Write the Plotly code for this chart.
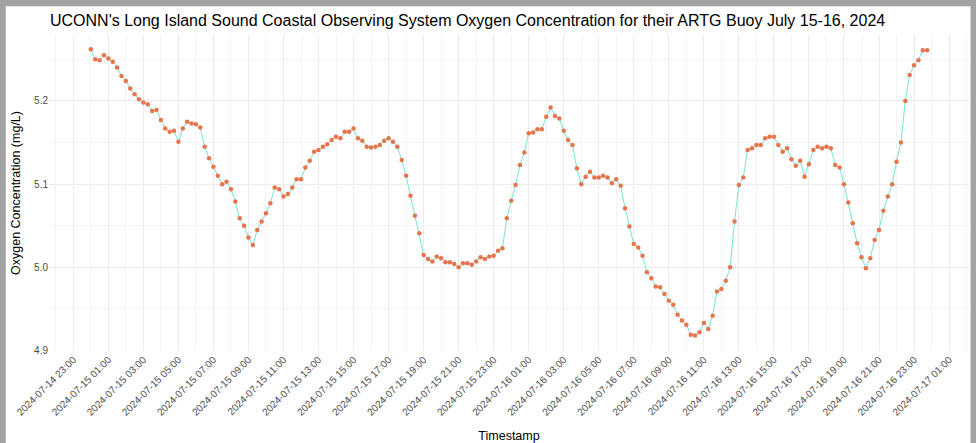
import pandas as pd
import plotly.graph_objects as go

# ---- data (15-minute readings) ----
start_time = "2024-07-15 00:00"
interval = "15min"

oxygen_jul15_0000_1145 = [
    5.262, 5.250, 5.249, 5.255, 5.251, 5.247, 5.240, 5.230, 5.224, 5.215, 5.208, 5.202,
    5.198, 5.196, 5.188, 5.189, 5.177, 5.167, 5.163, 5.164, 5.151, 5.167, 5.175, 5.173,
    5.172, 5.168, 5.145, 5.131, 5.121, 5.110, 5.100, 5.103, 5.094, 5.079, 5.059, 5.050,
    5.036, 5.027, 5.045, 5.055, 5.065, 5.077, 5.096, 5.094, 5.085, 5.088, 5.096, 5.106,
]
oxygen_jul15_1200_2330 = [
    5.106, 5.120, 5.128, 5.139, 5.141, 5.145, 5.148, 5.153, 5.157, 5.155, 5.163, 5.163,
    5.167, 5.155, 5.152, 5.145, 5.144, 5.145, 5.147, 5.152, 5.155, 5.151, 5.145, 5.129,
    5.110, 5.086, 5.062, 5.041, 5.015, 5.010, 5.007, 5.013, 5.011, 5.006, 5.006, 5.004,
    5.000, 5.005, 5.005, 5.003, 5.007, 5.012, 5.010, 5.013, 5.014, 5.020, 5.023,
]
oxygen_jul15_2345_jul16_1130 = [
    5.059, 5.080, 5.099, 5.123, 5.138, 5.161, 5.162, 5.166, 5.166, 5.181, 5.192, 5.182,
    5.179, 5.164, 5.153, 5.147, 5.119, 5.100, 5.109, 5.115, 5.108, 5.108, 5.110, 5.108,
    5.101, 5.106, 5.098, 5.071, 5.049, 5.028, 5.024, 5.014, 4.994, 4.987, 4.977, 4.976,
    4.968, 4.960, 4.955, 4.943, 4.936, 4.931, 4.919, 4.918, 4.922, 4.933, 4.926, 4.942,
]
oxygen_jul16_1145_2345 = [
    4.971, 4.974, 4.984, 5.000, 5.055, 5.099, 5.108, 5.141, 5.143, 5.147, 5.147, 5.155,
    5.157, 5.157, 5.147, 5.139, 5.143, 5.130, 5.122, 5.128, 5.109, 5.124, 5.141, 5.145,
    5.143, 5.145, 5.143, 5.123, 5.120, 5.100, 5.078, 5.053, 5.029, 5.012, 4.999, 5.011,
    5.033, 5.045, 5.068, 5.085, 5.100, 5.127, 5.150, 5.200, 5.231, 5.243, 5.249, 5.261,
    5.261,
]

title_text = ("UCONN's Long Island Sound Coastal Observing System Oxygen Concentration "
              "for their ARTG Buoy July 15-16, 2024")
x_title = "Timestamp"
y_title = "Oxygen Concentration (mg/L)"

oxygen = (oxygen_jul15_0000_1145 + oxygen_jul15_1200_2330
          + oxygen_jul15_2345_jul16_1130 + oxygen_jul16_1145_2345)
timestamps = pd.date_range(start=start_time, periods=len(oxygen), freq=interval)

# ggplot-like 5% expansion of scales
t0, t1 = timestamps[0], timestamps[-1]
tpad = (t1 - t0) * 0.05
x_range = [t0 - tpad, t1 + tpad]
ymin, ymax = min(oxygen), max(oxygen)
ypad = (ymax - ymin) * 0.05
y_range = [min(ymin - ypad, 4.8995), ymax + ypad]

fig = go.Figure()
fig.add_trace(go.Scatter(
    x=timestamps, y=oxygen, mode="lines",
    line=dict(color="#74E6D2", width=1),
    showlegend=False, hoverinfo="skip",
))
fig.add_trace(go.Scatter(
    x=timestamps, y=oxygen, mode="markers",
    marker=dict(color="#E8744C", size=4.5, line=dict(width=0)),
    showlegend=False,
))

grid_major = "#EBEBEB"
grid_minor = "#F3F3F3"

fig.update_layout(
    width=976, height=443,
    margin=dict(l=49, r=7, t=35, b=92),
    paper_bgcolor="#A3A3A3",
    plot_bgcolor="white",
    font=dict(family="Liberation Sans, Arial, sans-serif", color="#000000"),
    title=dict(text=title_text, x=50 / 976, xanchor="left", xref="container",
               y=1 - 20 / 443, yanchor="middle", yref="container",
               font=dict(size=16, color="#000000")),
    xaxis=dict(
        type="date", range=x_range, automargin=False,
        tick0="2024-07-14 23:00", dtick=7200000,
        tickformat="%Y-%m-%d %H:%M", tickangle=-45,
        tickfont=dict(size=10, color="#4D4D4D"),
        showgrid=True, gridcolor=grid_major, gridwidth=1,
        minor=dict(dtick=3600000, showgrid=True, gridcolor=grid_minor, gridwidth=1),
        zeroline=False, showline=False, ticks="",
        title=dict(text=x_title, font=dict(size=12.5, color="#000000"), standoff=14),
    ),
    yaxis=dict(
        range=y_range, automargin=False,
        tick0=4.9, dtick=0.1, tickformat=".1f",
        tickfont=dict(size=10, color="#4D4D4D"),
        showgrid=True, gridcolor=grid_major, gridwidth=1,
        minor=dict(dtick=0.05, tick0=4.9, showgrid=True, gridcolor=grid_minor, gridwidth=1),
        zeroline=False, showline=False, ticks="",
        title=dict(text=y_title, font=dict(size=12.5, color="#000000"), standoff=10),
    ),
)

# white image area inside the gray screenshot border
fig.add_shape(type="rect", xref="paper", yref="paper",
              x0=-0.047, x1=1.0017, y0=-0.32, y1=1.0908,
              fillcolor="white", line=dict(width=0), layer="below")

fig.write_html("out.html", config={"displayModeBar": False},
               post_script="document.body.style.margin='0px';")
